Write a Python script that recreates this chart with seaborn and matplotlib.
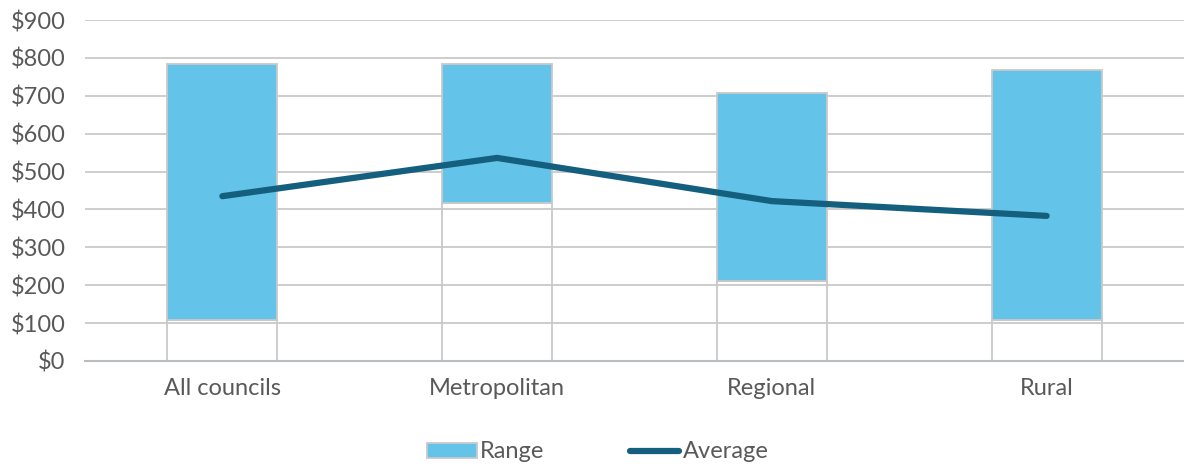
import matplotlib
matplotlib.use("Agg")
import matplotlib.pyplot as plt
import seaborn as sns
import numpy as np
from matplotlib.patches import Patch
from matplotlib.lines import Line2D

categories = ["All councils", "Metropolitan", "Regional", "Rural"]
range_low = [108, 417, 211, 108]
range_high = [784, 784, 707, 768]
average = [435, 536, 422, 383]
yticks = [0, 100, 200, 300, 400, 500, 600, 700, 800, 900]

sns.set_theme(style="white")
plt.rcParams["font.family"] = ["Lato", "DejaVu Sans"]

blue = "#64c3e8"
navy = "#155f7e"
grid = "#c9c9c9"
textc = "#595959"

fig = plt.figure(figsize=(11.84, 4.66), dpi=100)
ax = fig.add_axes([85/1184, 105/466, 1099/1184, 341/466])

range_size = [h - l for h, l in zip(range_high, range_low)]

# transparent base bar (only outline), blue range bar stacked on top
sns.barplot(x=categories, y=range_low, width=0.4, ax=ax, fill=False,
            edgecolor=grid, linewidth=1.3, zorder=2)
sns.barplot(x=categories, y=range_size, bottom=range_low, color=blue, width=0.4, ax=ax,
            edgecolor=grid, linewidth=1.3, saturation=1, zorder=3)
sns.lineplot(x=np.arange(len(categories)), y=average, color=navy, linewidth=4.5,
             ax=ax, zorder=4, solid_capstyle="round")

ax.set_xlim(-0.5, 3.5)
ax.set_ylim(0, 900)
ax.set_yticks(yticks)
ax.set_yticklabels([f"${v}" for v in yticks], fontsize=17, color=textc)
ax.set_xticks(range(len(categories)))
ax.set_xticklabels(categories, fontsize=17, color=textc)
ax.tick_params(axis="x", pad=12, length=0)
ax.tick_params(axis="y", pad=14, length=0)
ax.yaxis.grid(True, color=grid, linewidth=1.3, zorder=0)
ax.set_axisbelow(True)
for s in ["left", "right", "top"]:
    ax.spines[s].set_visible(False)
ax.spines["bottom"].set_color("#b9bcc0")
ax.spines["bottom"].set_linewidth(1.5)
ax.set_xlabel("")
ax.set_ylabel("")

handles = [Patch(facecolor=blue, edgecolor=grid, linewidth=1.3),
           Line2D([0], [0], color=navy, linewidth=4.5)]
fig.legend(handles, ["Range", "Average"], loc="lower center",
           bbox_to_anchor=(0.505, -0.038), ncol=2, frameon=False, fontsize=17,
           handlelength=2.1, handleheight=0.6, handletextpad=0.15, columnspacing=3.6,
           labelcolor=textc)

fig.savefig("out.png", dpi=100)
